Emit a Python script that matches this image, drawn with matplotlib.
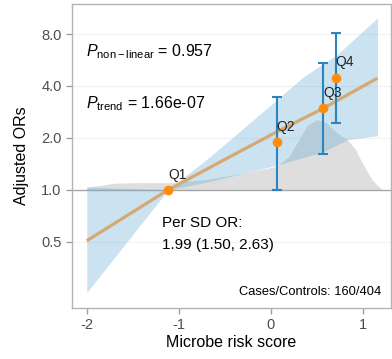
import matplotlib
matplotlib.use("Agg")
import matplotlib.pyplot as plt

plt.rcParams["font.family"] = ["Liberation Sans", "DejaVu Sans"]
plt.rcParams["mathtext.fontset"] = "custom"
plt.rcParams["mathtext.rm"] = "Liberation Sans"
plt.rcParams["mathtext.it"] = "Liberation Sans:italic"

# quartile points (Q1 = reference)
q_labels = ["Q1", "Q2", "Q3", "Q4"]
q_x = [-1.116, 0.065, 0.572, 0.707]
q_or = [1.0, 1.89, 2.97, 4.47]
q_lo = [1.0, 1.0, 1.62, 2.45]
q_hi = [1.0, 3.47, 5.41, 8.07]

# spline fit
fit_x = [-2.0, -1.5, -1.116, -0.5, 0.065, 0.572, 1.16]
fit_or = [0.507, 0.745, 1.0, 1.50, 2.17, 2.97, 4.44]

# confidence band
band_x = [-2.0, -1.116, -0.66, 0.065, 0.35, 0.57, 0.72, 0.83, 1.16]
band_hi = [1.04, 1.0, 1.56, 3.32, 4.50, 5.39, 6.06, 6.87, 9.92]
band_lo = [0.254, 1.0, 1.12, 1.39, 1.54, 1.66, 1.82, 1.95, 2.06]

# exposure density (drawn above OR = 1)
dens_x = [-2.0, -1.7, -1.4, -1.1, -0.7, -0.3, 0.065, 0.2, 0.3, 0.4, 0.5,
          0.6, 0.72, 0.83, 0.92, 0.97, 1.04, 1.1, 1.16, 1.21]
dens_top = [1.035, 1.094, 1.102, 1.102, 1.149, 1.25, 1.37, 1.57, 1.93, 2.38,
            2.55, 2.46, 2.14, 1.96, 1.72, 1.52, 1.30, 1.15, 1.06, 1.01]

fig = plt.figure(figsize=(3.92, 3.59), dpi=100)
ax = fig.add_axes([72 / 392, 51 / 359, 319 / 392, 304 / 359])
ax.set_yscale("log", base=2)

for y in [0.5, 2, 4, 8]:
    ax.axhline(y, color="#f2f2f2", lw=0.8, zorder=0)

ax.fill_between(dens_x, 1.0, dens_top, color="#dedede", lw=0, zorder=1)
ax.axhline(1.0, color="#a6a6a6", lw=1.0, zorder=2)
ax.fill_between(band_x, band_lo, band_hi, color="#6baed6", alpha=0.35, lw=0, zorder=3)
ax.plot(fit_x, fit_or, color="#d6a872", lw=2.3, zorder=4, solid_capstyle="butt")

err_lo = [o - l for o, l in zip(q_or, q_lo)]
err_hi = [h - o for o, h in zip(q_or, q_hi)]
ax.errorbar(q_x[1:], q_or[1:], yerr=[err_lo[1:], err_hi[1:]], fmt="none",
            ecolor="#2b83c0", elinewidth=1.5, capsize=3.5, capthick=1.5, zorder=5)
ax.plot(q_x, q_or, "o", color="#ff8c0a", ms=7, mec="none", zorder=6)
for lab, x, y in zip(q_labels, q_x, q_or):
    ax.annotate(lab, (x, y), xytext=(0, 6), textcoords="offset points",
                ha="left", va="bottom", fontsize=10, color="#222222", zorder=7)

ax.text(0.044, 0.827, r"$P_{\mathrm{non-linear}}$ = 0.957", transform=ax.transAxes,
        fontsize=11.5, va="baseline", ha="left")
ax.text(0.044, 0.657, r"$P_{\mathrm{trend}}$ = 1.66e-07", transform=ax.transAxes,
        fontsize=11.5, va="baseline", ha="left")
ax.text(0.281, 0.266, "Per SD OR:", transform=ax.transAxes, fontsize=11,
        va="baseline", ha="left")
ax.text(0.281, 0.194, "1.99 (1.50, 2.63)", transform=ax.transAxes, fontsize=11,
        va="baseline", ha="left")
ax.text(0.968, 0.043, "Cases/Controls: 160/404", transform=ax.transAxes,
        fontsize=9.3, va="baseline", ha="right")

ax.set_xlim(-2.16, 1.307)
ax.set_ylim(0.207, 11.94)
ax.set_xticks([-2, -1, 0, 1])
ax.set_xticklabels(["-2", "-1", "0", "1"])
ax.set_yticks([0.5, 1, 2, 4, 8])
ax.set_yticklabels(["0.5", "1.0", "2.0", "4.0", "8.0"])
ax.minorticks_off()
ax.tick_params(colors="#a0a0a0", labelcolor="#4d4d4d", labelsize=10.5, length=4, width=1)
for s in ax.spines.values():
    s.set_color("#b3b3b3")
    s.set_linewidth(1)

ax.set_xlabel("Microbe risk score", fontsize=11.5, labelpad=2)
ax.set_ylabel("Adjusted ORs", fontsize=11.5, labelpad=9)

fig.savefig("out.png", dpi=100)
